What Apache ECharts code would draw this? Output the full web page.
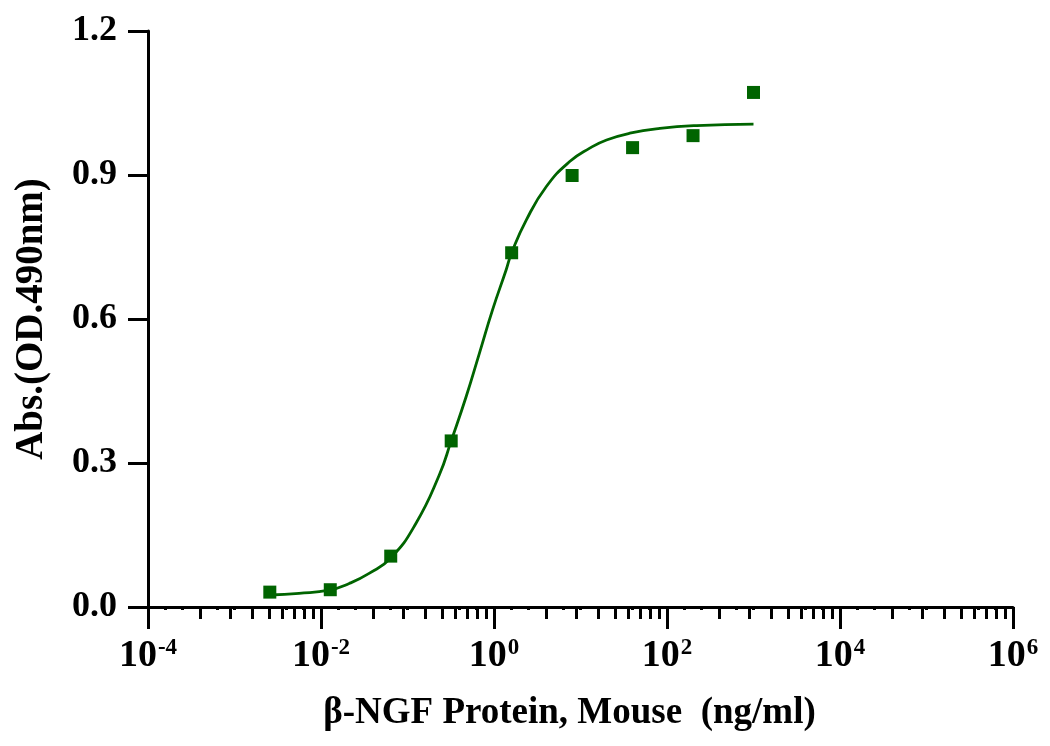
<!DOCTYPE html>
<html>

<head>
    <meta charset="UTF-8">
    <title>β-NGF Protein, Mouse</title>
    <script src="https://cdn.jsdelivr.net/npm/echarts@6/dist/echarts.min.js"></script>
    <style>
        html, body { margin: 0; padding: 0; background: #fff; }
        #main { width: 1050px; height: 746px; }
    </style>
</head>

<body>
    <div id="main"></div>

    <script>
        // measured points (ng/ml, OD 490nm)
        var doseConc = [0.00256, 0.0128, 0.064, 0.32, 1.6, 8, 40, 200, 1000];
        var doseAbs = [0.031, 0.036, 0.106, 0.346, 0.738, 0.899, 0.957, 0.982, 1.072];

        // fitted curve
        var fitConc = [0.00256, 0.00557, 0.0124, 0.0212, 0.036, 0.064, 0.125, 0.233, 0.32, 0.476,
            0.679, 0.962, 1.38, 1.6, 2.36, 4.03, 7.5, 12.8, 20, 37.2, 82.8, 220, 1000];
        var fitAbs = [0.025, 0.0285, 0.035, 0.049, 0.070, 0.102, 0.174, 0.275, 0.346, 0.438,
            0.529, 0.619, 0.702, 0.738, 0.806, 0.876, 0.928, 0.956, 0.973, 0.987, 0.997, 1.003, 1.006];

        // axis ticks (log10 of concentration)
        var xMajorExp = [-4, -2, 0, 2, 4, 6];
        var yTicks = [0, 0.3, 0.6, 0.9, 1.2];

        var green = '#006400';
        var font = '"Liberation Serif", "Times New Roman", serif';

        function toLog(conc, vals) {
            return conc.map(function (c, i) {
                return [Math.log10(c), vals[i]];
            });
        }

        // minor ticks: within each 2-decade step, spaced like a 1..10 log cycle
        var minorTicks = [];
        for (var m = 0; m < xMajorExp.length - 1; m++) {
            for (var k = 2; k <= 9; k++) {
                minorTicks.push(xMajorExp[m] + 2 * Math.log10(k));
            }
        }
        var dotTicks = [];
        for (var d = 0; d <= 50; d++) {
            dotTicks.push(-4 + d * 0.2);
        }

        var myChart = echarts.init(document.getElementById('main'));

        var option = {
            animation: false,
            backgroundColor: '#fff',
            grid: {
                left: 148,
                right: 37,
                top: 31,
                bottom: 139,
                outerBoundsMode: 'none'
            },
            xAxis: [{
                type: 'value',
                position: 'bottom',
                min: xMajorExp[0],
                max: xMajorExp[xMajorExp.length - 1],
                interval: 2,
                splitLine: { show: false },
                axisLine: { onZero: false, lineStyle: { color: '#000', width: 3 } },
                axisTick: { length: 22, lineStyle: { color: '#000', width: 3 } },
                axisLabel: {
                    margin: 30,
                    formatter: function (v) {
                        return '{b|10}{s|' + v + '}';
                    },
                    rich: {
                        b: { fontFamily: font, fontWeight: 'bold', fontSize: 38, color: '#000' },
                        s: { fontFamily: font, fontWeight: 'bold', fontSize: 23, color: '#000', verticalAlign: 'top', padding: [0, 0, 14, 1] }
                    }
                },
                name: 'β-NGF Protein, Mouse  (ng/ml)',
                nameLocation: 'middle',
                nameGap: 88,
                nameTextStyle: { fontFamily: font, fontWeight: 'bold', fontSize: 37, color: '#000', padding: [0, 22, 0, 0] }
            }, {
                type: 'value',
                position: 'bottom',
                min: xMajorExp[0],
                max: xMajorExp[xMajorExp.length - 1],
                splitLine: { show: false },
                axisLine: { show: false, onZero: false },
                axisLabel: { show: false },
                axisTick: { customValues: minorTicks, length: 12, lineStyle: { color: '#000', width: 3 } }
            }, {
                type: 'value',
                position: 'bottom',
                min: xMajorExp[0],
                max: xMajorExp[xMajorExp.length - 1],
                splitLine: { show: false },
                axisLine: { show: false, onZero: false },
                axisLabel: { show: false },
                axisTick: { customValues: dotTicks, length: 3, lineStyle: { color: '#000', width: 3 } }
            }],
            yAxis: {
                type: 'value',
                min: yTicks[0],
                max: yTicks[yTicks.length - 1],
                interval: 0.3,
                splitLine: { show: false },
                axisLine: { show: true, onZero: false, lineStyle: { color: '#000', width: 3 } },
                axisTick: { show: true, length: 20, lineStyle: { color: '#000', width: 3 } },
                axisLabel: {
                    margin: 31,
                    fontFamily: font,
                    fontWeight: 'bold',
                    fontSize: 36,
                    color: '#000',
                    formatter: function (v) {
                        return v.toFixed(1);
                    }
                },
                name: 'Abs.(OD.490nm)',
                nameLocation: 'middle',
                nameGap: 97,
                nameRotate: 90,
                nameTextStyle: { fontFamily: font, fontWeight: 'bold', fontSize: 39, color: '#000' }
            },
            series: [{
                type: 'line',
                xAxisIndex: 0,
                data: toLog(fitConc, fitAbs),
                smooth: true,
                showSymbol: false,
                lineStyle: { color: green, width: 2.8 },
                z: 2
            }, {
                type: 'scatter',
                xAxisIndex: 0,
                data: toLog(doseConc, doseAbs),
                symbol: 'rect',
                symbolSize: 13,
                itemStyle: { color: green, opacity: 1 },
                z: 3
            }]
        };

        myChart.setOption(option);
    </script>

</body>

</html>
